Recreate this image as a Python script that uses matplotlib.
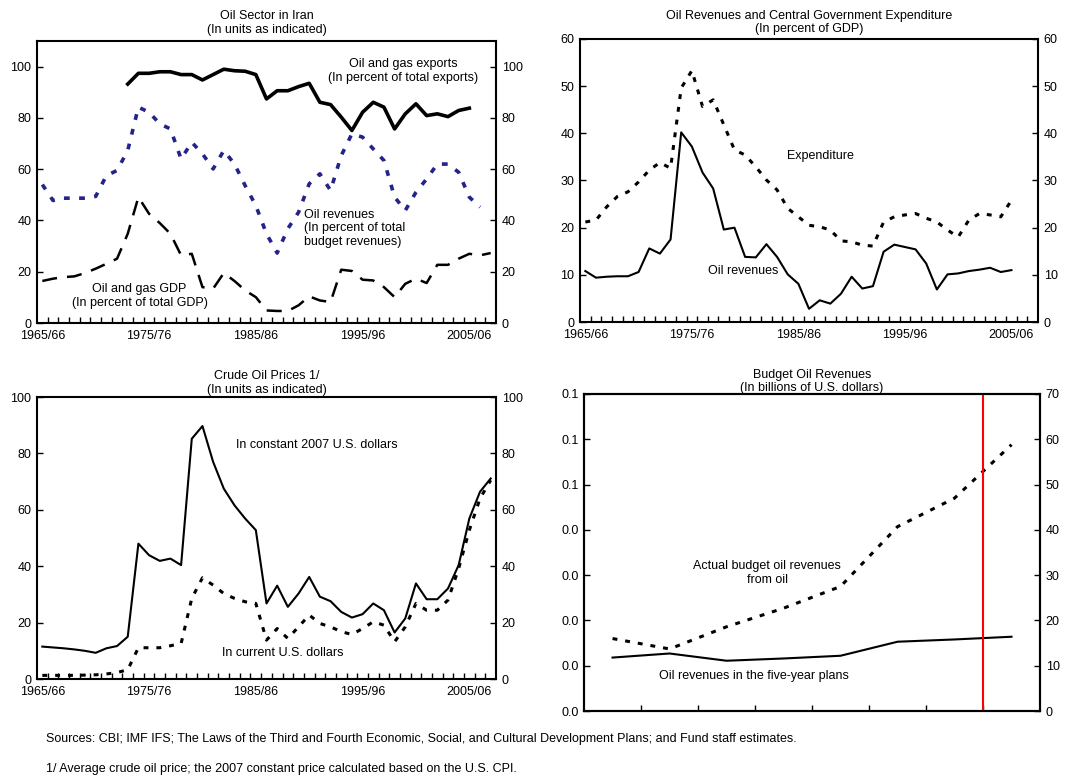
import matplotlib
matplotlib.use('Agg')
import matplotlib.pyplot as plt
from matplotlib.ticker import FormatStrFormatter

plt.rcParams['font.family'] = ['Liberation Sans', 'DejaVu Sans']
plt.rcParams['font.size'] = 9

# fiscal years 1965/66 .. 2007/08
years = ['{}/{:02d}'.format(y, (y + 1) % 100) for y in range(1965, 2008)]
year_ticks = ['1965/66', '1975/76', '1985/86', '1995/96', '2005/06']

# panel 1: oil sector in Iran
exports_start = '1973/74'
oil_gas_exports = [93.2, 97.4, 97.4, 98.0, 98.0, 96.9, 96.9, 94.8, 96.9, 99.0,
                   98.4, 98.2, 96.9, 87.4, 90.6, 90.6, 92.2, 93.5, 86.1, 85.2,
                   80.3, 75.1, 82.2, 86.1, 84.2, 75.7, 81.6, 85.5, 80.9, 81.6,
                   80.5, 82.9, 83.8]
oil_rev_share = [54.0, 47.8, 48.7, 48.7, 48.7, 49.4, 57.5, 59.5, 67.3, 84.2,
                 82.2, 77.7, 75.7, 64.0, 70.5, 66.0, 60.1, 67.3, 62.0, 53.6,
                 45.8, 34.8, 27.3, 36.8, 43.2, 54.3, 58.2, 51.7, 65.3, 73.8,
                 72.5, 67.9, 63.4, 49.1, 43.9, 51.0, 56.2, 62.0, 62.0, 58.8,
                 49.1, 45.2]
oil_gas_gdp = [16.4, 17.3, 17.9, 18.2, 19.5, 21.2, 23.1, 25.1, 34.8, 49.1,
               42.6, 39.0, 34.8, 26.4, 27.0, 14.0, 13.4, 19.5, 16.4, 12.7,
               10.1, 4.9, 4.7, 4.7, 6.9, 10.4, 8.8, 8.2, 20.8, 20.3,
               16.9, 16.6, 14.0, 10.1, 15.3, 17.3, 15.6, 22.7, 22.7, 25.1,
               27.0, 26.4, 27.3]

# panel 2: oil revenues and expenditure (percent of GDP)
oil_rev_gdp = [10.8, 9.4, 9.6, 9.7, 9.7, 10.6, 15.6, 14.5, 17.5, 40.2,
               37.2, 31.7, 28.3, 19.6, 20.0, 13.8, 13.7, 16.5, 13.8, 10.1,
               8.1, 2.8, 4.6, 3.9, 6.0, 9.6, 7.1, 7.6, 14.9, 16.4,
               15.9, 15.4, 12.4, 6.9, 10.1, 10.3, 10.8, 11.1, 11.5, 10.6,
               11.0]
expenditure = [21.2, 21.6, 24.4, 26.6, 27.6, 29.7, 32.2, 33.8, 32.6, 49.6,
               53.3, 45.7, 47.1, 41.8, 36.5, 35.4, 32.9, 30.1, 28.0, 24.1,
               22.3, 20.5, 20.2, 19.5, 17.2, 17.0, 16.3, 16.1, 21.2, 22.3,
               22.7, 23.0, 22.0, 21.2, 19.5, 18.0, 21.6, 23.0, 22.7, 22.3,
               25.8]

# panel 3: crude oil prices
price_constant = [11.5, 11.2, 10.9, 10.5, 10.0, 9.3, 10.9, 11.7, 15.0, 48.0,
                  43.9, 41.9, 42.7, 40.4, 85.2, 89.7, 77.0, 67.5, 61.6, 56.9,
                  52.8, 26.8, 33.1, 25.6, 30.3, 36.2, 29.2, 27.6, 23.8, 21.8,
                  23.0, 26.8, 24.4, 16.5, 21.5, 33.9, 28.3, 28.3, 32.1, 40.4,
                  56.9, 66.4, 71.1]
price_current = [1.3, 1.3, 1.3, 1.3, 1.4, 1.5, 1.8, 2.3, 3.3, 11.1,
                 11.1, 11.1, 11.8, 12.6, 28.6, 35.9, 33.3, 30.3, 28.6, 27.4,
                 26.8, 13.8, 17.9, 14.4, 18.5, 22.7, 19.7, 18.5, 16.8, 15.8,
                 17.9, 20.3, 19.1, 13.2, 18.5, 26.8, 24.4, 24.4, 28.0, 39.2,
                 52.8, 64.0, 70.5]

# panel 4: budget oil revenues (billions of US$)
plan_years = ['2000/01', '2001/02', '2002/03', '2003/04', '2004/05',
              '2005/06', '2006/07', '2007/08']
actual_oil_rev = [16.0, 13.7, 18.6, 22.7, 27.5, 40.7, 47.0, 58.8]
plan_oil_rev = [11.8, 12.7, 11.1, 11.6, 12.2, 15.3, 15.8, 16.4]
left_ticks = [0.0, 0.01, 0.02, 0.03, 0.04, 0.05, 0.06, 0.07]

sources = ('Sources: CBI; IMF IFS; The Laws of the Third and Fourth Economic, Social, '
           'and Cultural Development Plans; and Fund staff estimates.')
note = '1/ Average crude oil price; the 2007 constant price calculated based on the U.S. CPI.'

navy = '#23238a'
dotted = (0, (1.6, 2.6))

fig = plt.figure(figsize=(10.88, 7.78), dpi=100)


def style_year_axis(ax, ymax, ystep, top):
    ax.set_xlim(-0.5, len(years) - 0.5)
    ax.set_ylim(0, top)
    ax.set_xticks([years.index(t) for t in year_ticks])
    ax.set_xticklabels(year_ticks)
    ax.set_xticks([i + 0.5 for i in range(len(years) - 1)], minor=True)
    ax.tick_params(axis='x', which='major', length=0, pad=5)
    ax.tick_params(axis='x', which='minor', direction='in', length=4, width=1)
    ax.set_yticks(list(range(0, ymax + 1, ystep)))
    ax.tick_params(axis='y', direction='in', length=4, width=1,
                   left=True, right=True, labelleft=True, labelright=True, pad=4)
    for s in ax.spines.values():
        s.set_linewidth(1.5)


x = list(range(len(years)))

# --- panel 1
ax1 = fig.add_axes([0.034, 0.5848, 0.4219, 0.3625])
s0 = years.index(exports_start)
ax1.plot(x[s0:s0 + len(oil_gas_exports)], oil_gas_exports, color='black', lw=2.6)
ax1.plot(x[:len(oil_rev_share)], oil_rev_share, color=navy, lw=2.6, linestyle=dotted)
ax1.plot(x[:len(oil_gas_gdp)], oil_gas_gdp, color='black', lw=1.8, linestyle=(0, (6, 4)))
style_year_axis(ax1, 100, 20, 110)
ax1.set_title('Oil Sector in Iran\n(In units as indicated)', fontsize=9, pad=6, linespacing=1.15)
ax1.text(33.8, 98.3, 'Oil and gas exports\n(In percent of total exports)',
         ha='center', va='center', linespacing=1.15)
ax1.text(24.5, 37, 'Oil revenues\n(In percent of total\nbudget revenues)',
         ha='left', va='center', linespacing=1.15)
ax1.text(9.1, 10.5, 'Oil and gas GDP\n(In percent of total GDP)',
         ha='center', va='center', linespacing=1.15)

# --- panel 2
ax2 = fig.add_axes([0.5331, 0.5861, 0.421, 0.3638])
ax2.plot(x[:len(oil_rev_gdp)], oil_rev_gdp, color='black', lw=1.5)
ax2.plot(x[:len(expenditure)], expenditure, color='black', lw=2.2, linestyle=dotted)
style_year_axis(ax2, 60, 10, 60)
ax2.set_title('Oil Revenues and Central Government Expenditure\n(In percent of GDP)',
              fontsize=9, pad=5, linespacing=1.15)
ax2.text(22.1, 35.2, 'Expenditure', ha='center', va='center')
ax2.text(14.8, 10.8, 'Oil revenues', ha='center', va='center')

# --- panel 3
ax3 = fig.add_axes([0.034, 0.1272, 0.4219, 0.3625])
ax3.plot(x[:len(price_constant)], price_constant, color='black', lw=1.5)
ax3.plot(x[:len(price_current)], price_current, color='black', lw=2.2, linestyle=dotted)
style_year_axis(ax3, 100, 20, 100)
ax3.set_title('Crude Oil Prices 1/\n(In units as indicated)', fontsize=9, pad=3, linespacing=1.15)
ax3.text(25.7, 83, 'In constant 2007 U.S. dollars', ha='center', va='center')
ax3.text(22.5, 9.2, 'In current U.S. dollars', ha='center', va='center')

# --- panel 4
ax4 = fig.add_axes([0.5368, 0.0861, 0.4191, 0.4075])
ax4.set_ylim(0, 0.07)
ax4.set_yticks(left_ticks)
ax4.yaxis.set_major_formatter(FormatStrFormatter('%.1f'))
ax4.tick_params(axis='y', direction='in', length=4, width=1, pad=4)
ax4r = ax4.twinx()
px = list(range(len(plan_years)))
ax4r.plot(px, actual_oil_rev, color='black', lw=2.2, linestyle=dotted)
ax4r.plot(px, plan_oil_rev, color='black', lw=1.5)
ax4r.axvline(6.5, color='red', lw=1.5)
ax4r.set_ylim(0, 70)
ax4r.set_yticks(list(range(0, 71, 10)))
ax4r.tick_params(axis='y', direction='in', length=4, width=1, pad=4)
ax4.set_xlim(-0.5, len(plan_years) - 0.5)
ax4.set_xticks([i + 0.5 for i in range(len(plan_years) - 1)])
ax4.set_xticklabels([])
ax4.tick_params(axis='x', direction='in', length=4, width=1)
for s in list(ax4.spines.values()) + list(ax4r.spines.values()):
    s.set_linewidth(1.5)
ax4.set_title('Budget Oil Revenues\n(In billions of U.S. dollars)', fontsize=9, pad=1, linespacing=1.1)
ax4r.text(2.71, 30.5, 'Actual budget oil revenues\nfrom oil', ha='center', va='center', linespacing=1.15)
ax4r.text(2.48, 7.7, 'Oil revenues in the five-year plans', ha='center', va='center')

fig.text(0.0423, 0.0501, sources, ha='left', va='center', fontsize=9)
fig.text(0.0423, 0.0116, note, ha='left', va='center', fontsize=9)

fig.savefig('out.png', dpi=100)
